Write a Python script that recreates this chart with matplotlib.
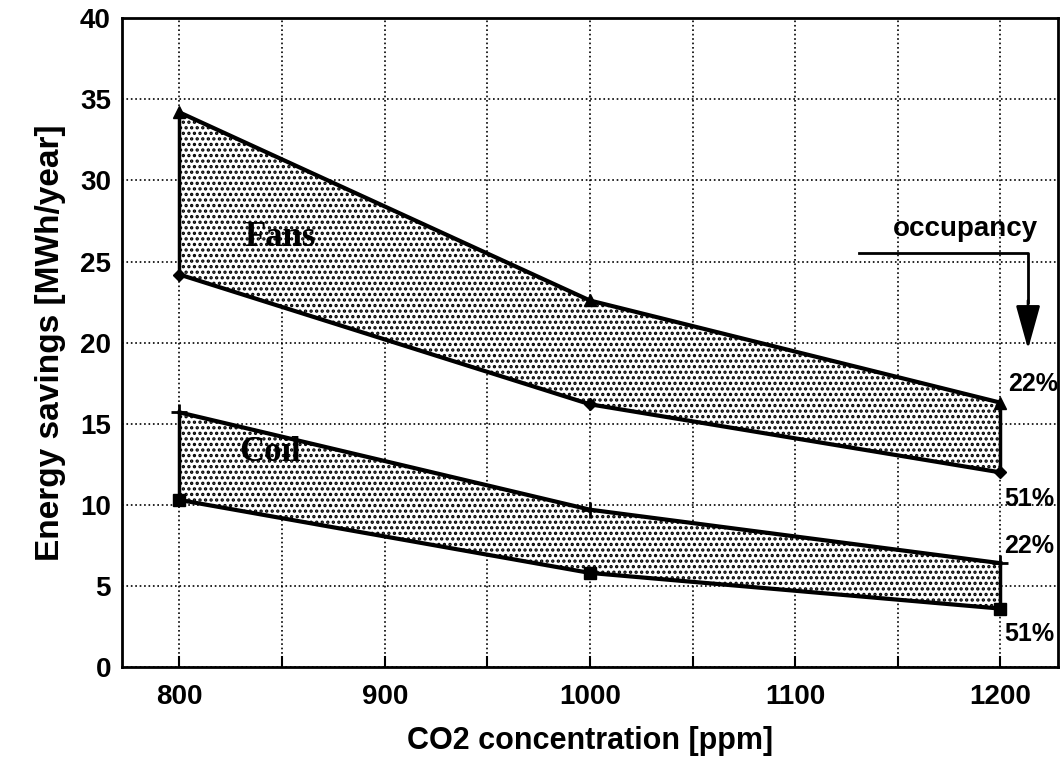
import numpy as np
import matplotlib.pyplot as plt

co2 = [800, 1000, 1200]
fans_22 = [34.2, 22.6, 16.3]
fans_51 = [24.2, 16.2, 12.0]
coil_22 = [15.7, 9.7, 6.4]
coil_51 = [10.3, 5.8, 3.6]

plt.rcParams['font.family'] = ['Liberation Sans', 'DejaVu Sans']
plt.rcParams['hatch.linewidth'] = 1.6

fig = plt.figure(figsize=(10.61, 7.64), dpi=100)
ax = fig.add_axes([0.115, 0.127, 0.882, 0.849])

# shaded bands (opaque, hide the grid underneath)
for upper, lower in [(fans_22, fans_51), (coil_22, coil_51)]:
    ax.fill_between(co2, lower, upper, facecolor='white', edgecolor='black',
                    hatch='...', linewidth=0, zorder=1.8)
    ax.plot([co2[0], co2[0]], [lower[0], upper[0]], color='black', lw=2.5)
    ax.plot([co2[-1], co2[-1]], [lower[-1], upper[-1]], color='black', lw=2.5)

ax.plot(co2, fans_22, 'k-', marker='^', lw=3, markersize=8)
ax.plot(co2, fans_51, 'k-', marker='D', lw=3, markersize=6)
ax.plot(co2, coil_22, 'k-', marker='+', lw=3, markersize=12, markeredgewidth=2)
ax.plot(co2, coil_51, 'k-', marker='s', lw=3, markersize=8)

ax.set_xlim(772, 1228)
ax.set_ylim(0, 40)
ax.set_xticks([800, 900, 1000, 1100, 1200])
ax.set_xticks(np.arange(800, 1201, 50), minor=True)
ax.set_yticks(np.arange(0, 41, 5))
ax.grid(True, which='both', linestyle=':', color='black', linewidth=1.2)
ax.tick_params(axis='both', which='both', direction='in', length=8, width=1.5)
ax.tick_params(axis='y', length=0, pad=8)
for lab in ax.get_xticklabels() + ax.get_yticklabels():
    lab.set_fontsize(20)
    lab.set_fontweight('bold')
ax.tick_params(axis='x', pad=12)

for sp in ax.spines.values():
    sp.set_linewidth(2)

ax.set_xlabel('CO2 concentration [ppm]', fontsize=22, fontweight='bold', labelpad=12)
ax.set_ylabel('Energy savings [MWh/year]', fontsize=24, fontweight='bold', labelpad=10)

ax.text(849, 26.5, 'Fans', family='Liberation Serif', fontsize=25, fontweight='bold',
        ha='center', va='center', zorder=3)
ax.text(844, 13.2, 'Coil', family='Liberation Serif', fontsize=25, fontweight='bold',
        ha='center', va='center', zorder=3)

ax.text(1183, 26.2, 'occupancy', fontsize=20, fontweight='bold', ha='center', va='bottom')
ax.plot([1131, 1213.5, 1213.5], [25.55, 25.55, 22.5], color='black', lw=2)
ax.annotate('', xy=(1213.5, 19.6), xytext=(1213.5, 22.6),
            arrowprops=dict(arrowstyle='-|>,head_width=0.75,head_length=2.7',
                            color='black', lw=2, shrinkA=0, shrinkB=0))

for x, y, s in [(1204, 17.45, '22%'), (1202, 10.36, '51%'),
                (1202, 7.46, '22%'), (1202, 2.03, '51%')]:
    ax.text(x, y, s, fontsize=18, fontweight='bold', ha='left', va='center')

fig.savefig('out.png', dpi=100)
